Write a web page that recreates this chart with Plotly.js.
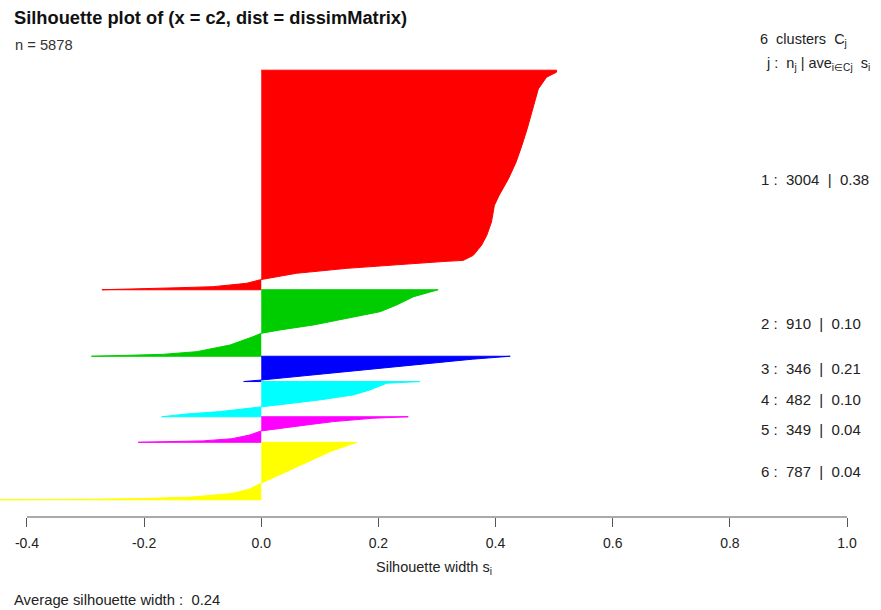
<!DOCTYPE html>
<html><head><meta charset="utf-8">
<script src="https://cdn.plot.ly/plotly-3.0.1.min.js"></script>
<style>body{margin:0;background:#fff}#chart{width:881px;height:610px}</style>
</head><body><div id="chart"></div>
<script>
// ---- data ----
const clusterIds = [1, 2, 3, 4, 5, 6];
const clusterSizes = [3004, 910, 346, 482, 349, 787];
const clusterAvg = [0.38, 0.10, 0.21, 0.10, 0.04, 0.04];
const clusterColors = ['#FF0000', '#00CD00', '#0000FF', '#00FFFF', '#FF00FF', '#FFFF00'];
const totalN = 5878;
const avgWidth = 0.24;
const xTicks = [-0.4, -0.2, 0.0, 0.2, 0.4, 0.6, 0.8, 1.0];
const xTickLabels = ['-0.4', '-0.2', '0.0', '0.2', '0.4', '0.6', '0.8', '1.0'];

// silhouette profile of each cluster (rank within cluster, sorted width)
const c1Rank = [0, 27, 96, 256, 346, 574, 802, 1029, 1258, 1486, 1713, 1850, 2078, 2260, 2396, 2533, 2602, 2618, 2711, 2779, 2864, 2916, 2962, 2976, 2990, 3004];
const c1Sil  = [0.504, 0.504, 0.487, 0.473, 0.470, 0.462, 0.454, 0.445, 0.435, 0.422, 0.406, 0.398, 0.393, 0.385, 0.376, 0.362, 0.345, 0.31, 0.146, 0.06, 0.0, -0.025, -0.082, -0.139, -0.224, -0.272];
const c2Rank = [0, 95, 209, 300, 390, 482, 550, 596, 642, 755, 847, 883, 896, 910];
const c2Sil  = [0.302, 0.26, 0.231, 0.203, 0.146, 0.089, 0.032, 0.0, -0.014, -0.053, -0.11, -0.167, -0.224, -0.29];
const c3Rank = [0, 40, 142, 210, 279, 325, 346];
const c3Sil  = [0.425, 0.36, 0.235, 0.15, 0.06, 0.0, -0.03];
const c4Rank = [0, 23, 114, 183, 251, 306, 343, 411, 443, 482];
const c4Sil  = [0.271, 0.214, 0.186, 0.157, 0.1, 0.043, 0.0, -0.07, -0.127, -0.17];
const c5Rank = [0, 6, 20, 66, 111, 156, 193, 250, 300, 330, 340, 349];
const c5Sil  = [0.251, 0.23, 0.19, 0.123, 0.078, 0.037, 0.0, -0.02, -0.05, -0.1, -0.15, -0.21];
const c6Rank = [0, 127, 354, 559, 640, 700, 750, 770, 780, 785, 787];
const c6Sil  = [0.163, 0.118, 0.055, 0.0, -0.02, -0.05, -0.12, -0.2, -0.3, -0.4, -0.47];

const ranks = [c1Rank, c2Rank, c3Rank, c4Rank, c5Rank, c6Rank];
const sils = [c1Sil, c2Sil, c3Sil, c4Sil, c5Sil, c6Sil];

// ---- build ----
const W = 881, H = 610;
const FONT = 'Liberation Sans, Arial, sans-serif';
const traces = [];
const annotations = [];
let start = 0;
const plotTop = 53, plotBot = 517;
const py = px => (plotBot - px) / (plotBot - plotTop);
const pxX = px => px / W;

clusterIds.forEach((id, k) => {
  const n = clusterSizes[k];
  const xs = [0].concat(sils[k]).concat([0]);
  const ys = [start].concat(ranks[k].map(r => start + r)).concat([start + n]);
  traces.push({
    type: 'scatter', mode: 'lines', x: xs, y: ys, fill: 'toself',
    fillcolor: clusterColors[k], line: {color: clusterColors[k], width: 1},
    hoverinfo: 'skip', showlegend: false
  });
  annotations.push({
    xref: 'paper', yref: 'y', x: pxX(759), y: start + n / 2,
    xanchor: 'left', yanchor: 'middle', showarrow: false,
    text: id + ' :  ' + n + '  |  ' + clusterAvg[k].toFixed(2),
    font: {family: FONT, size: 15, color: '#222'}
  });
  start += n;
});

annotations.push(
  {xref: 'paper', yref: 'paper', x: pxX(13), y: py(45), xanchor: 'left', yanchor: 'middle', showarrow: false,
   text: 'n = ' + totalN, font: {family: FONT, size: 14.7, color: '#333'}},
  {xref: 'paper', yref: 'paper', x: pxX(758), y: py(40), xanchor: 'left', yanchor: 'middle', showarrow: false,
   text: clusterIds.length + '  clusters  C<sub>j</sub>', font: {family: FONT, size: 14.5, color: '#222'}},
  {xref: 'paper', yref: 'paper', x: pxX(764), y: py(64), xanchor: 'left', yanchor: 'middle', showarrow: false,
   text: 'j :  n<sub>j</sub> | ave<sub>i∈Cj</sub>  s<sub>i</sub>', font: {family: FONT, size: 14.5, color: '#222'}},
  {xref: 'paper', yref: 'paper', x: pxX(434), y: py(568), xanchor: 'center', yanchor: 'middle', showarrow: false,
   text: 'Silhouette width s<sub>i</sub>', font: {family: FONT, size: 14.5, color: '#222'}},
  {xref: 'paper', yref: 'paper', x: pxX(12), y: py(600), xanchor: 'left', yanchor: 'middle', showarrow: false,
   text: 'Average silhouette width :  ' + avgWidth.toFixed(2), font: {family: FONT, size: 14.8, color: '#222'}}
);

const layout = {
  width: W, height: H,
  margin: {l: 0, r: 0, t: plotTop, b: H - plotBot, pad: 0},
  paper_bgcolor: '#ffffff', plot_bgcolor: '#ffffff',
  title: {text: '<b>Silhouette plot of (x = c2, dist = dissimMatrix)</b>', x: pxX(14), xanchor: 'left', xref: 'paper',
          y: 1 - 18 / H, yanchor: 'middle', yref: 'container', font: {family: FONT, size: 18.3, color: '#111'}},
  xaxis: {range: [-0.446, 1.058], tickvals: xTicks, ticktext: xTickLabels, ticks: 'outside', ticklen: 9,
          tickcolor: '#555', tickwidth: 1, showgrid: false, zeroline: false, showline: false,
          ticklabelstandoff: 4,
          tickfont: {family: FONT, size: 14, color: '#222'}, fixedrange: true},
  yaxis: {range: [totalN * 1.04, -totalN * 0.04], visible: false, fixedrange: true},
  shapes: [{type: 'line', xref: 'x', yref: 'paper', x0: xTicks[0], x1: xTicks[xTicks.length - 1], y0: 0, y1: 0,
            line: {color: '#555', width: 1}}],
  annotations: annotations,
  hovermode: false
};
Plotly.newPlot('chart', traces, layout, {displayModeBar: false, staticPlot: true});
</script>
</body></html>
